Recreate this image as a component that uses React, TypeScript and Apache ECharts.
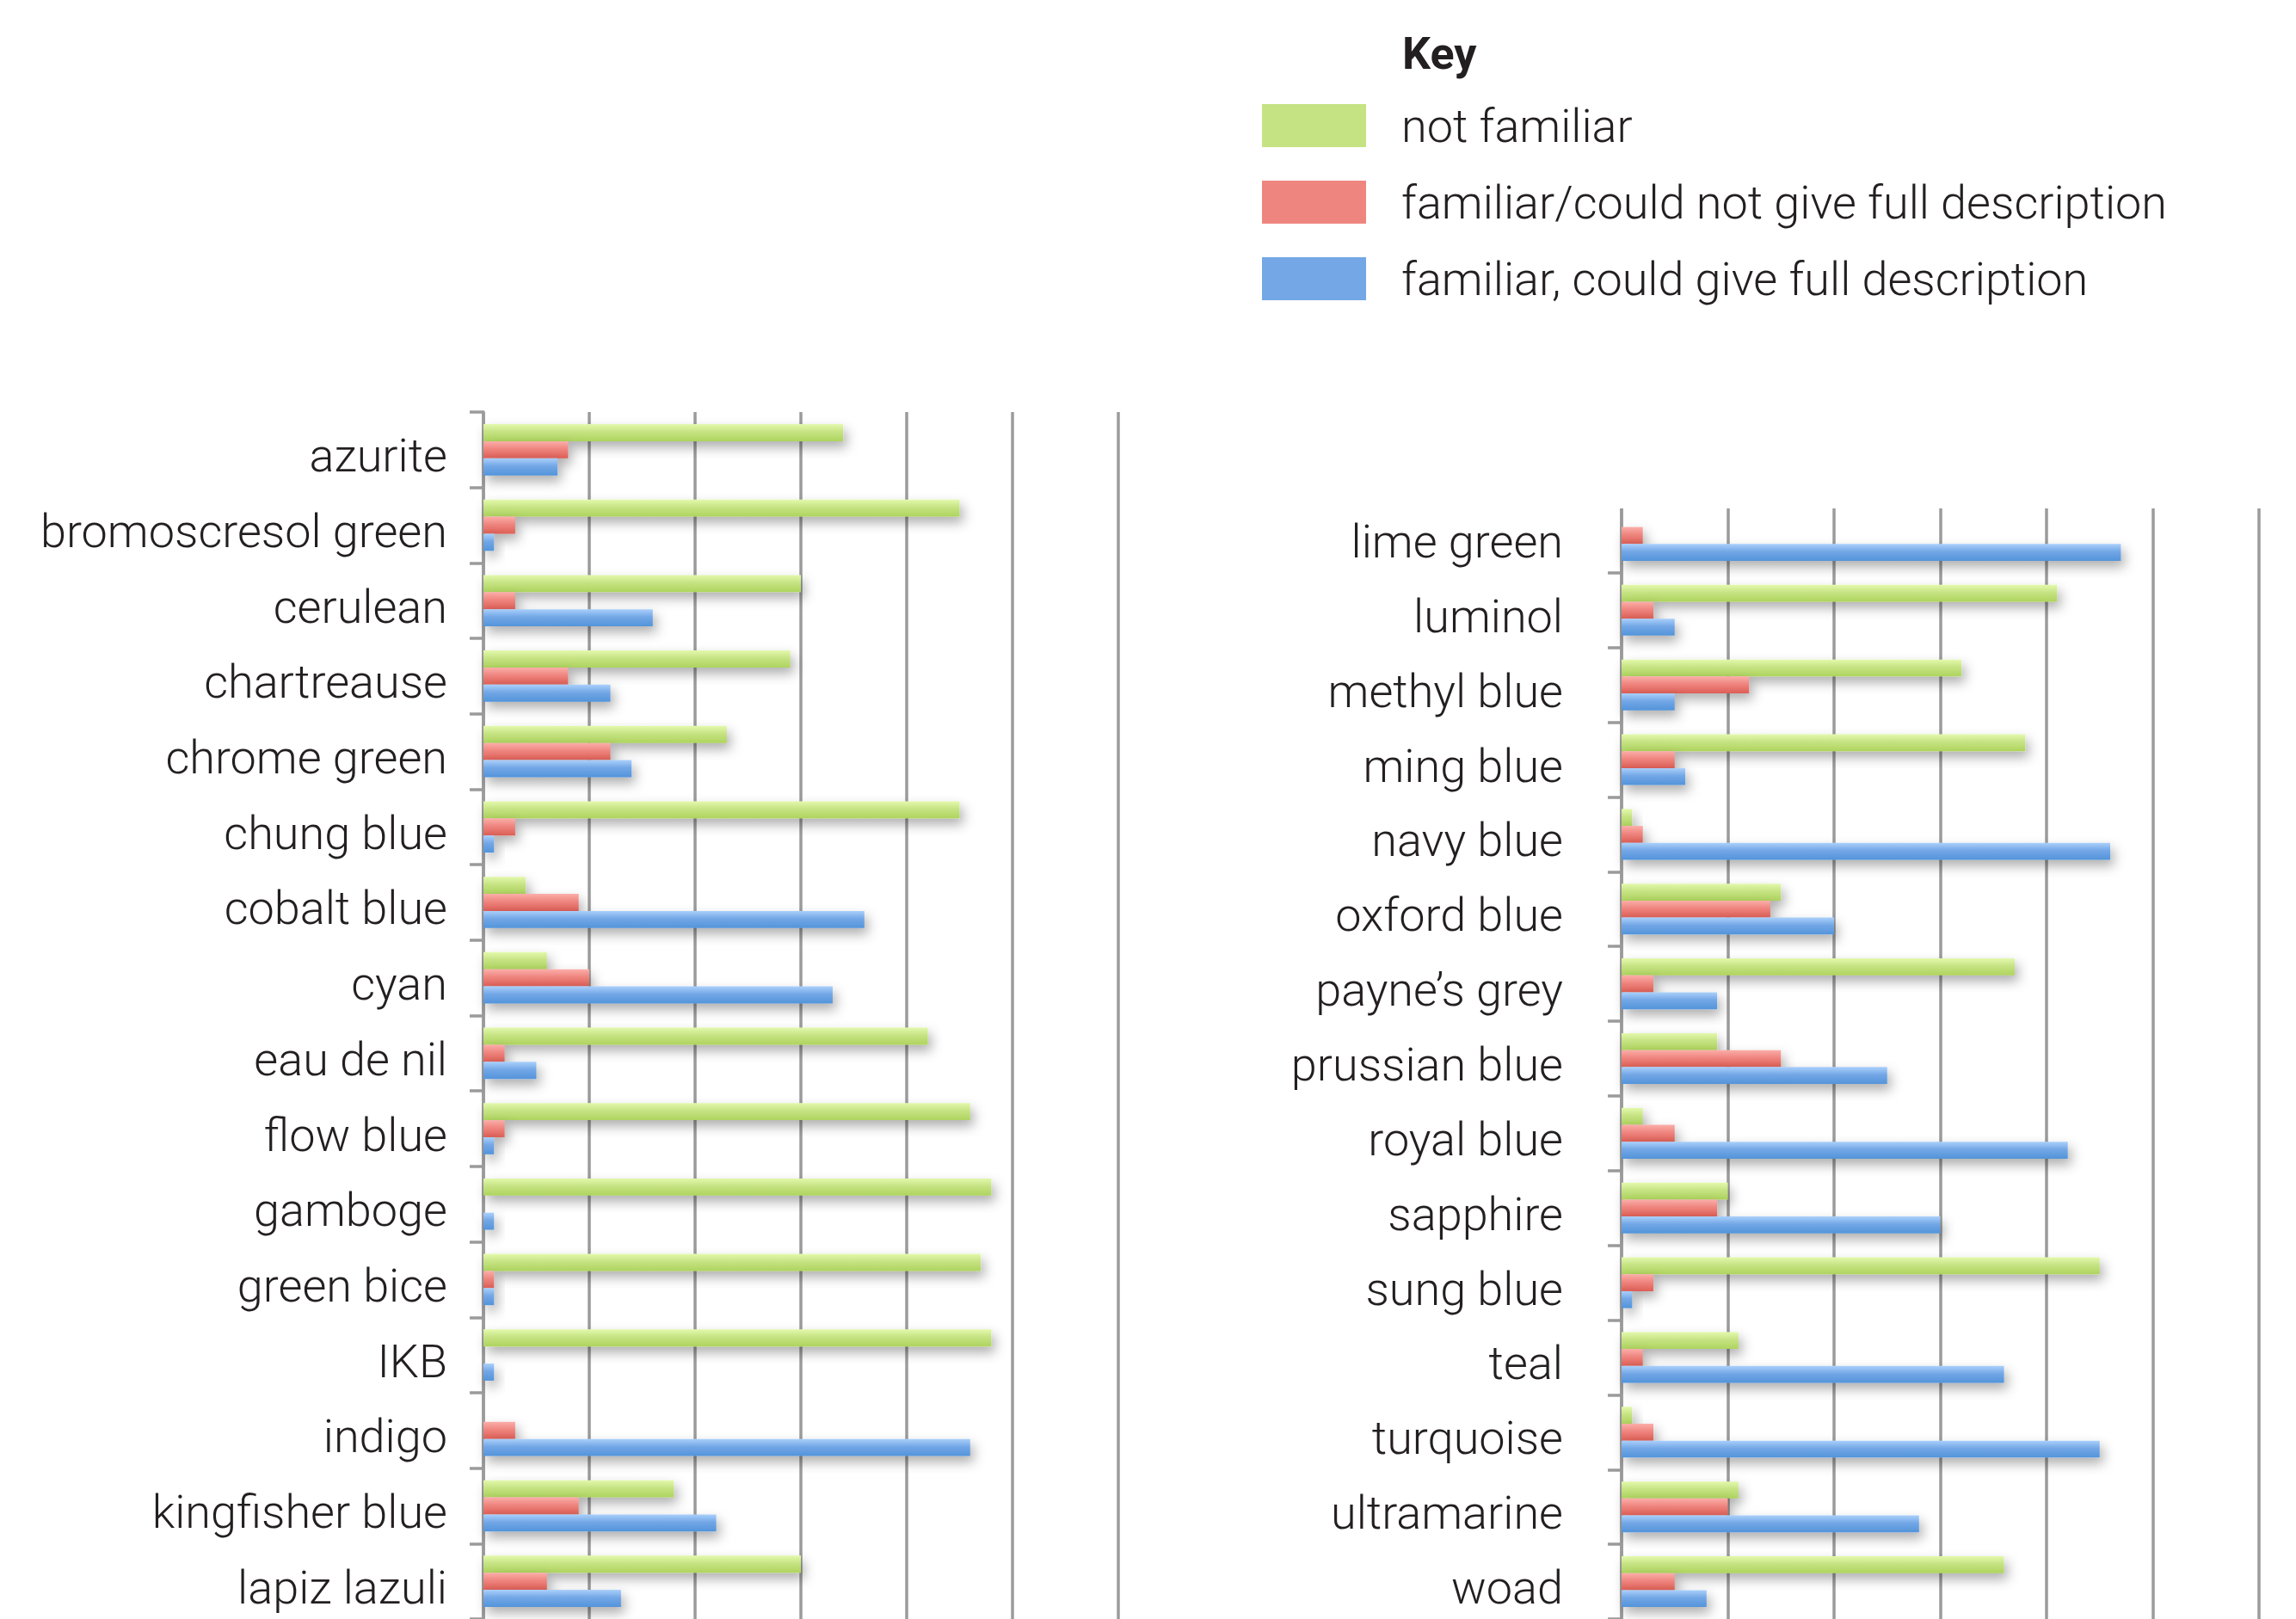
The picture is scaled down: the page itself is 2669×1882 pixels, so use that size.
import React, { useEffect, useRef } from "react";
import * as echarts from "echarts";

const leftCategories = [
  "azurite", "bromoscresol green", "cerulean", "chartreause", "chrome green",
  "chung blue", "cobalt blue", "cyan", "eau de nil", "flow blue", "gamboge",
  "green bice", "IKB", "indigo", "kingfisher blue", "lapiz lazuli",
];
const leftNotFamiliar = [34, 45, 30, 29, 23, 45, 4, 6, 42, 46, 48, 47, 48, 0, 18, 30];
const leftPartial = [8, 3, 3, 8, 12, 3, 9, 10, 2, 2, 0, 1, 0, 3, 9, 6];
const leftFull = [7, 1, 16, 12, 14, 1, 36, 33, 5, 1, 1, 1, 1, 46, 22, 13];

const rightCategories = [
  "lime green", "luminol", "methyl blue", "ming blue", "navy blue", "oxford blue",
  "payne\u2019s grey", "prussian blue", "royal blue", "sapphire", "sung blue",
  "teal", "turquoise", "ultramarine", "woad",
];
const rightNotFamiliar = [0, 41, 32, 38, 1, 15, 37, 9, 2, 10, 45, 11, 1, 11, 36];
const rightPartial = [2, 3, 12, 5, 2, 14, 3, 15, 5, 9, 3, 2, 3, 10, 5];
const rightFull = [47, 5, 5, 6, 46, 20, 9, 25, 42, 30, 1, 36, 45, 28, 8];

const seriesNames = [
  "not familiar",
  "familiar/could not give full description",
  "familiar, could give full description",
];
const flatColors = ["#c6e383", "#ef857f", "#73a7e6"];
const gradTop = ["#e3f9ad", "#fbaea9", "#aad0fb"];
const gradBottom = ["#aed45e", "#dd5f56", "#5394da"];

const FONT = "Roboto, 'Open Sans', 'DejaVu Sans', sans-serif";
const TEXT = "#231f20";
const GRID_LINE = "#9b9b9b";

function grad(i: number) {
  return new echarts.graphic.LinearGradient(0, 0, 0, 1, [
    { offset: 0, color: gradTop[i] },
    { offset: 0.45, color: flatColors[i] },
    { offset: 1, color: gradBottom[i] },
  ]);
}

export default function App() {
  const ref = useRef<HTMLDivElement>(null);
  useEffect(() => {
    if (!ref.current) return;
    const chart = echarts.init(ref.current, undefined, { renderer: "svg" });

    const valueAxis = (gridIndex: number) => ({
      type: "value",
      gridIndex,
      min: 0,
      max: 60,
      interval: 10,
      axisLabel: { show: false },
      axisLine: { show: false },
      axisTick: { show: false },
      splitLine: { show: true, lineStyle: { color: GRID_LINE, width: 3.5 } },
    });
    const catAxis = (gridIndex: number, data: string[], margin: number) => ({
      type: "category",
      gridIndex,
      data,
      inverse: true,
      axisLine: { show: true, lineStyle: { color: GRID_LINE, width: 3.5 } },
      axisTick: { show: true, length: 16, lineStyle: { color: GRID_LINE, width: 3.5 } },
      axisLabel: {
        margin,
        fontFamily: FONT,
        fontWeight: 300,
        fontSize: 54,
        color: TEXT,
        verticalAlign: "top",
        lineHeight: 14,
      },
      splitLine: { show: false },
    });

    const mk = (idx: number, data: number[], gi: number) => ({
      name: seriesNames[idx],
      type: "bar",
      xAxisIndex: gi,
      yAxisIndex: gi,
      data,
      barGap: "0%",
      barCategoryGap: "32%",
      itemStyle: {
        color: grad(idx),
        shadowColor: "rgba(0,0,0,0.32)",
        shadowBlur: 14,
        shadowOffsetX: 4,
        shadowOffsetY: 7,
      },
      emphasis: { disabled: true },
    });

    chart.setOption({
      animation: false,
      backgroundColor: "#ffffff",
      title: {
        text: "Key",
        left: 1625,
        top: 31,
        textStyle: { fontFamily: FONT, fontWeight: "bold", fontSize: 52, color: TEXT },
      },
      legend: {
        orient: "vertical",
        left: 1462,
        top: 114,
        itemWidth: 121,
        itemHeight: 50,
        itemGap: 35,
        icon: "rect",
        selectedMode: false,
        data: seriesNames.map((n, i) => ({ name: n, itemStyle: { color: flatColors[i] } })),
        textStyle: {
          fontFamily: FONT,
          fontWeight: 300,
          fontSize: 54,
          color: TEXT,
          padding: [6, 0, 0, 36],
        },
      },
      grid: [
        { left: 562, right: 1369, top: 479, bottom: -15, containLabel: false },
        { left: 1885, right: 43, top: 579, bottom: -27, containLabel: false },
      ],
      xAxis: [valueAxis(0), valueAxis(1)],
      yAxis: [catAxis(0, leftCategories, 42), catAxis(1, rightCategories, 68)],
      graphic: [
        {
          type: "rect",
          z: 1,
          shape: { x: 1850, y: 560, width: 819, height: 31 },
          style: { fill: "#ffffff" },
        },
      ],
      series: [
        mk(0, leftNotFamiliar, 0),
        mk(1, leftPartial, 0),
        mk(2, leftFull, 0),
        mk(0, rightNotFamiliar, 1),
        mk(1, rightPartial, 1),
        mk(2, rightFull, 1),
      ],
    });
    return () => chart.dispose();
  }, []);
  return (
    <div
      ref={ref}
      style={{ position: "absolute", left: 0, top: 0, width: 2669, height: 1882 }}
    />
  );
}
